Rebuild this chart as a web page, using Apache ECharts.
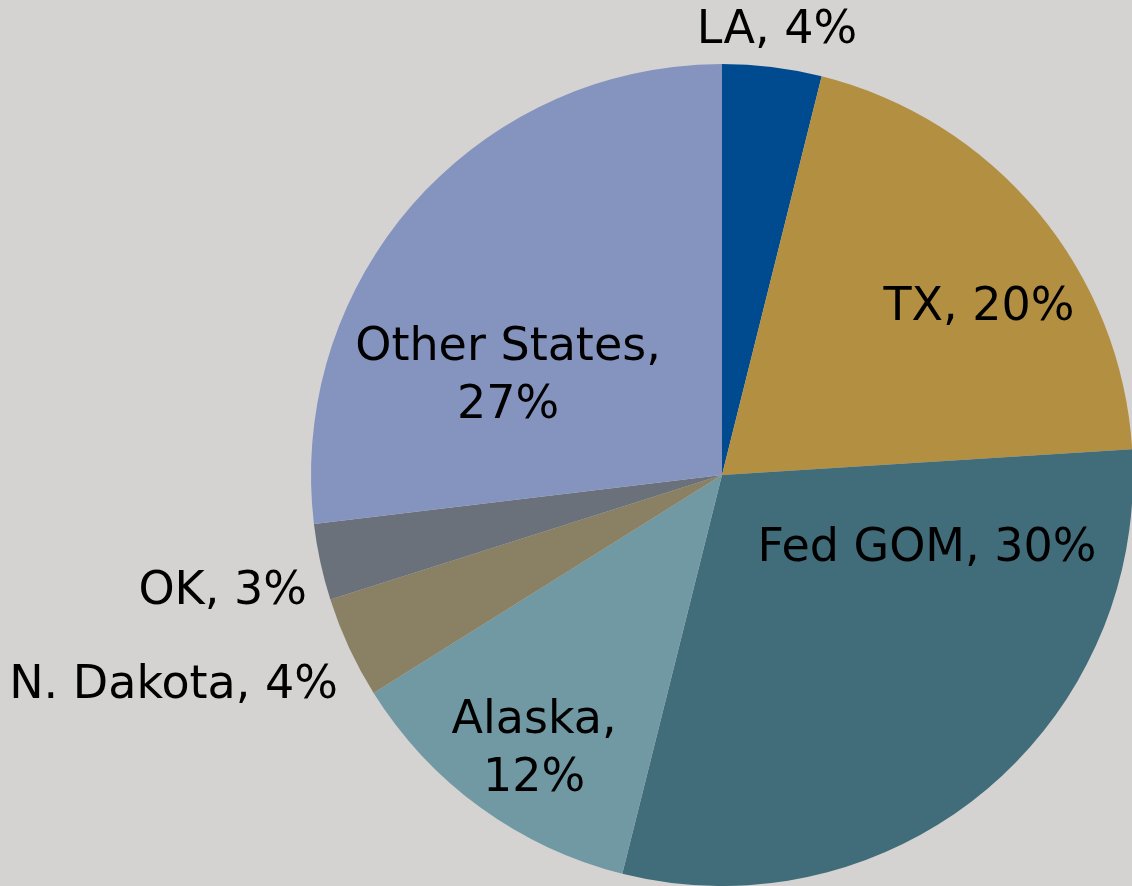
<!DOCTYPE html>
<html>
<head>
<meta charset="utf-8">
<script src="https://cdn.jsdelivr.net/npm/echarts@6/dist/echarts.min.js"></script>
<style>
html,body{margin:0;padding:0;background:#D4D3D1;}
#chart{width:1132px;height:886px;}
</style>
</head>
<body>
<div id="chart"></div>
<script>
// ---- data ----
const categories = ['LA', 'TX', 'Fed GOM', 'Alaska', 'N. Dakota', 'OK', 'Other States'];
const shares = [3.9, 20.1, 29.9, 12.2, 4.0, 3.0, 26.9];
const wrappedLabels = ['Alaska', 'Other States'];

// ---- styles ----
const colors = ['#004B8F', '#B38F42', '#416C7A', '#7099A3', '#8A8064', '#6B717A', '#8594BF'];
// label anchor placement (x, y, align)
const labelSpots = [
  [777, 31, 'center'],
  [979, 308, 'center'],
  [927, 549, 'center'],
  [534, 750, 'center'],
  [338, 686, 'right'],
  [307, 592, 'right'],
  [508, 377, 'center']
];

const chart = echarts.init(document.getElementById('chart'), null, {renderer: 'canvas'});
const data = categories.map((c, i) => ({
  name: c,
  value: shares[i],
  itemStyle: {color: colors[i]}
}));

chart.setOption({
  backgroundColor: '#D4D3D1',
  animation: false,
  series: [{
    type: 'pie',
    center: [722, 475],
    radius: [0, 411],
    startAngle: 90,
    clockwise: true,
    data: data,
    itemStyle: {borderWidth: 0},
    label: {
      show: true,
      position: 'inside',
      fontFamily: 'DejaVu Sans',
      fontSize: 46,
      lineHeight: 58,
      color: '#000',
      formatter: p => {
        const sep = wrappedLabels.indexOf(p.name) >= 0 ? ',\n' : ', ';
        return p.name + sep + Math.round(p.percent) + '%';
      }
    },
    labelLine: {show: false},
    labelLayout: p => {
      const s = labelSpots[p.dataIndex];
      return {x: s[0], y: s[1], align: s[2], verticalAlign: 'middle'};
    }
  }]
});
</script>
</body>
</html>
